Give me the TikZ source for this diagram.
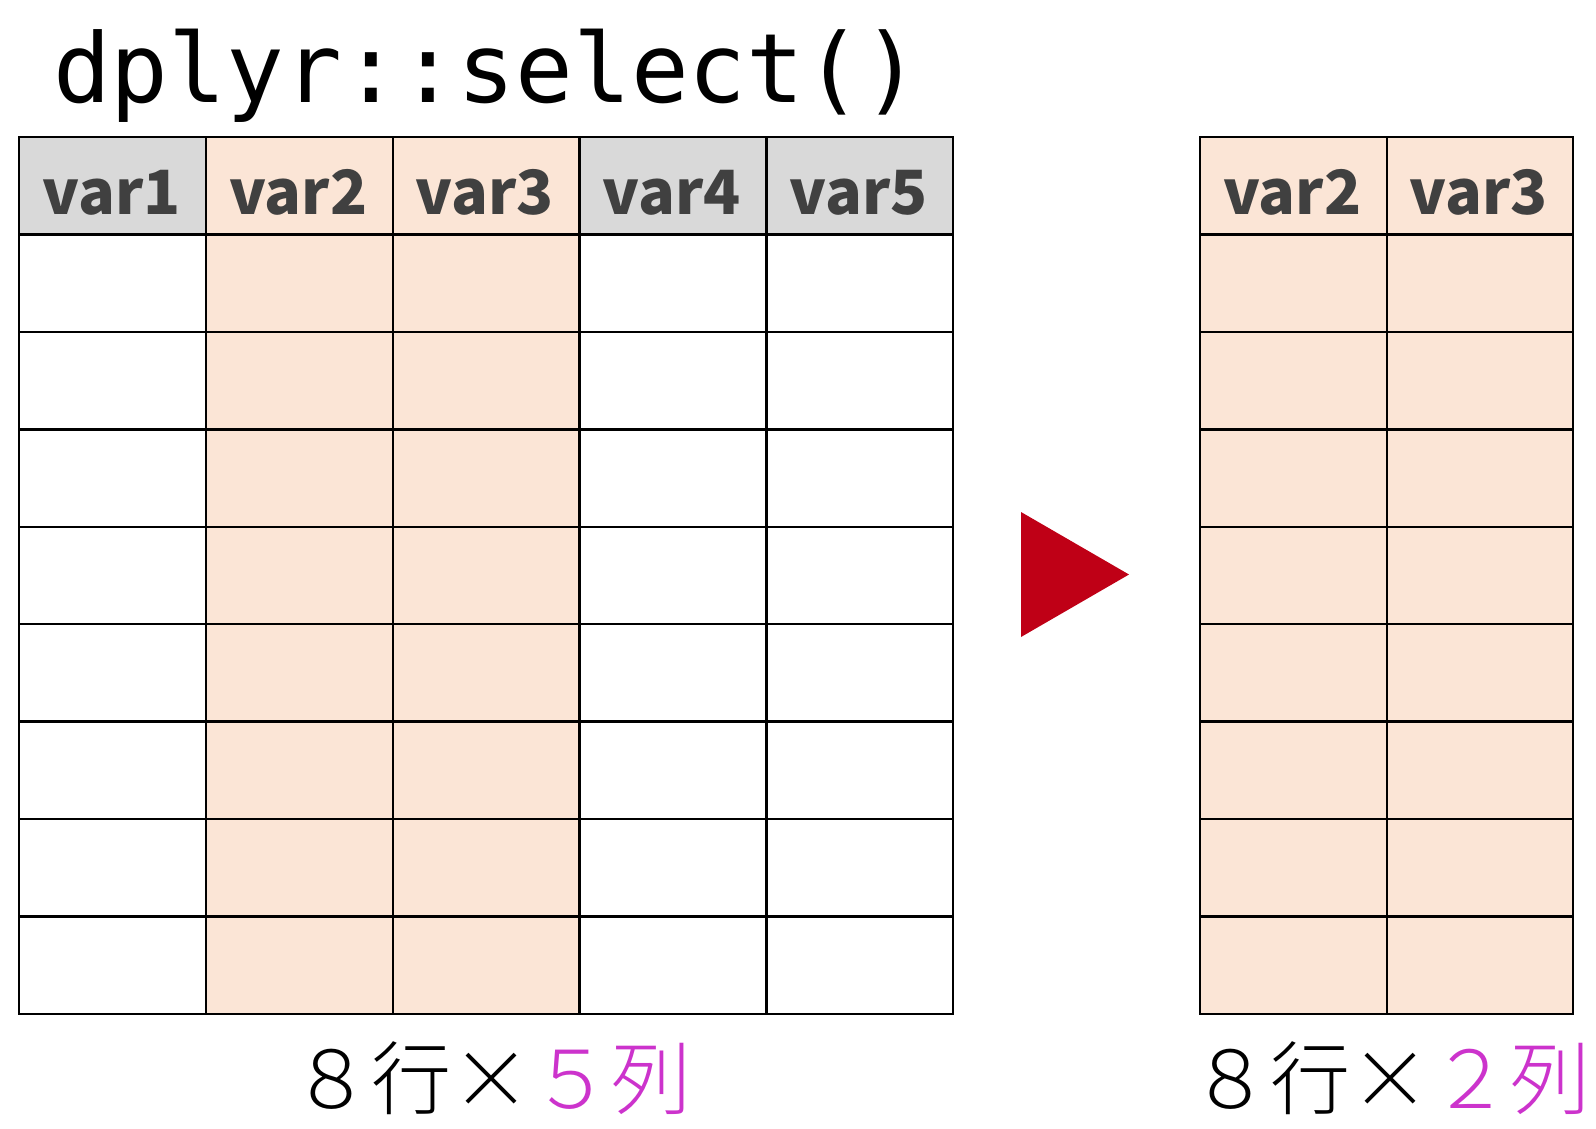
\documentclass[tikz,border=0pt]{standalone}
\usepackage{fontspec}
\usepackage{xcolor}
\usepackage{tikz}
\usetikzlibrary{positioning}
\IfFontExistsTF{Noto Sans CJK JP Light}
  {\newfontfamily\cjkthin{Noto Sans CJK JP Light}}
  {\newfontfamily\cjkthin{Noto Sans CJK JP}}
\newfontfamily\cjkhead{Noto Sans CJK JP}
\setmonofont{DejaVu Sans Mono}
\definecolor{hdgray}{HTML}{D9D9D9}
\definecolor{pick}{HTML}{FBE5D6}
\definecolor{labgray}{HTML}{404040}
\definecolor{arrowred}{HTML}{BF0016}
\definecolor{colnum}{HTML}{CC33CC}
\tikzset{
  cell/.style={draw=black, line width=2.4pt, rectangle, inner sep=0pt,
    minimum width=186.8pt, minimum height=97.4pt, anchor=north west},
  hdtext/.style={anchor=base, inner sep=0pt, text=labgray,
    font=\cjkhead\bfseries\fontsize{61}{73}\selectfont},
  dimtext/.style={inner sep=0pt, font=\cjkthin\fontsize{80}{96}\selectfont}
}
\begin{document}
\begin{tikzpicture}[x=1pt, y=-1pt]
\useasboundingbox (0,0) rectangle (1596,1128);
%%% title
\node[anchor=base west, inner sep=0pt, font=\ttfamily\fontsize{96}{112}\selectfont] (title) at (53,102) {dplyr::select()};
%%% left table: 8 rows x 5 columns
\foreach \c/\hd in {1/hdgray,2/pick,3/pick,4/hdgray,5/hdgray}{
  \pgfmathsetmacro{\xx}{18+186.8*(\c-1)}
  \ifnum\c=2 \def\bd{pick}\else\ifnum\c=3 \def\bd{pick}\else\def\bd{white}\fi\fi
  \node[cell, fill=\hd] (L0\c) at (\xx,136) {};
  \node[hdtext] (Lh\c) at (\xx+93.4,214) {var\c};
  \foreach \r in {1,...,8}{
    \node[cell, fill=\bd] (L\r\c) at (\xx,136+97.4*\r) {};
  }
}
%%% right table: 8 rows x 2 columns
\foreach \c/\v in {1/2,2/3}{
  \pgfmathsetmacro{\xx}{1199+186.5*(\c-1)}
  \node[cell, fill=pick, minimum width=186.5pt] (R0\c) at (\xx,136) {};
  \node[hdtext] (Rh\c) at (\xx+93.25,214) {var\v};
  \foreach \r in {1,...,8}{
    \node[cell, fill=pick, minimum width=186.5pt] (R\r\c) at (\xx,136+97.4*\r) {};
  }
}
%%% the arrow between the tables
\fill[arrowred] (1021,512) -- (1129,574.5) -- (1021,637) -- cycle;
%%% sizes
\node[dimtext] (Ldim) at (491,1078) {８行×{\color{colnum}５列}};
\node[dimtext] (Rdim) at (1390,1078) {８行×{\color{colnum}２列}};
\end{tikzpicture}
\end{document}
